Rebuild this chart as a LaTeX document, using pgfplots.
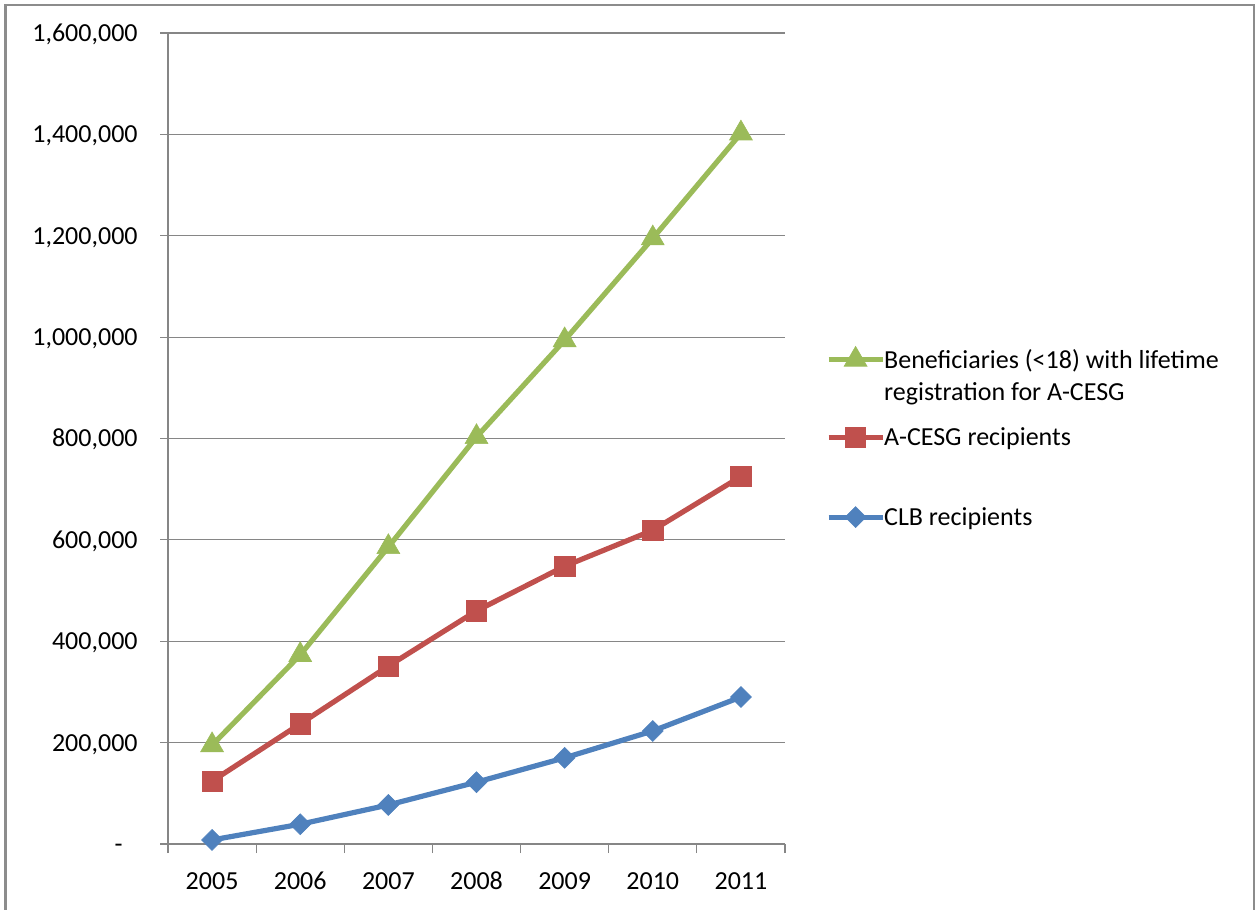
\documentclass[border=0pt]{standalone}
\usepackage{fontspec}
\setmainfont{Carlito}
\usepackage{pgfplots}
\pgfplotsset{compat=1.18}

\definecolor{sgreen}{HTML}{9BBB59}
\definecolor{sred}{HTML}{C0504D}
\definecolor{sblue}{HTML}{4F81BD}
\definecolor{axgray}{HTML}{868686}
\definecolor{framegray}{HTML}{8C8C8C}

\begin{document}
\begin{tikzpicture}
\useasboundingbox (0,0) rectangle (628pt,454.5pt);
% outer chart frame
\draw[framegray, line width=1.25pt] (2.75pt,-6pt) -- (2.75pt,452pt) -- (627pt,452pt) -- (627pt,-6pt);
\begin{axis}[
  at={(84pt,32.5pt)}, anchor=south west,
  scale only axis, width=308.5pt, height=405.5pt,
  xmin=-0.5, xmax=6.5, ymin=0, ymax=1600000,
  scaled y ticks=false,
  axis x line*=bottom, axis y line*=left,
  axis line style={axgray, line width=0.6pt, -},
  xtick={0,...,6},
  xticklabels={2005,2006,2007,2008,2009,2010,2011},
  minor xtick={-0.5,0.5,...,6.5},
  every major x tick/.append style={draw=none},
  every minor x tick/.append style={axgray, line width=0.6pt},
  ytick={0,200000,...,1600000},
  yticklabels={{-\rule{7.5pt}{0pt}},{200,000},{400,000},{600,000},{800,000},{1,000,000},{1,200,000},{1,400,000},{1,600,000}},
  every major y tick/.append style={axgray, line width=0.6pt},
  tick align=outside, major tick length=4pt, minor tick length=4.5pt,
  ymajorgrids, grid style={axgray, line width=0.6pt},
  tick label style={font=\fontsize{13}{16}\selectfont, text=black},
  yticklabel style={anchor=base east, inner sep=0pt, xshift=-11pt, yshift=-4.2pt},
  xticklabel style={anchor=base, inner sep=0pt, yshift=-18.5pt},
  legend image code/.code={%
    \draw[mark repeat=2, mark phase=2, #1]
      plot coordinates {(0pt,4.2pt) (13.5pt,4.2pt) (27pt,4.2pt)};},
  legend style={
    at={(axis description cs:1,0.6153)}, xshift=20.5pt, anchor=north west,
    draw=none, fill=none, inner sep=0pt, outer sep=0pt,
    row sep=8.25pt, column sep=-2.5pt,
    font=\fontsize{13}{16}\selectfont,
    cells={anchor=base west, inner sep=0pt},
  },
]
\addplot[sgreen, line width=2.6pt, mark=triangle*, mark size=6.6pt,
  mark options={solid, fill=sgreen, draw=sgreen, line width=0.3pt}]
  coordinates {(0,195000) (1,373000) (2,586000) (3,803000) (4,994000) (5,1195000) (6,1402000)};
\addlegendentry{\vtop{\hbox{\rule[-3pt]{0pt}{12pt}Beneficiaries (<18) with lifetime}\hbox{\rule[-3pt]{0pt}{12pt}registration for A-CESG}}}

\addplot[sred, line width=2.6pt, mark=square*, mark size=5.1pt,
  mark options={solid, fill=sred, draw=sred, line width=0.3pt}]
  coordinates {(0,124000) (1,237000) (2,351000) (3,460000) (4,548000) (5,619000) (6,725000)};
\addlegendentry{\rule[-3pt]{0pt}{28pt}A-CESG recipients}

\addplot[sblue, line width=2.6pt, mark=square*, mark size=3.7pt,
  mark options={solid, fill=sblue, draw=sblue, line width=0.3pt, rotate=45}]
  coordinates {(0,8000) (1,39000) (2,77000) (3,122000) (4,170000) (5,223000) (6,290000)};
\addlegendentry{\rule[-3pt]{0pt}{29.25pt}CLB recipients}
\end{axis}
\end{tikzpicture}
\end{document}
